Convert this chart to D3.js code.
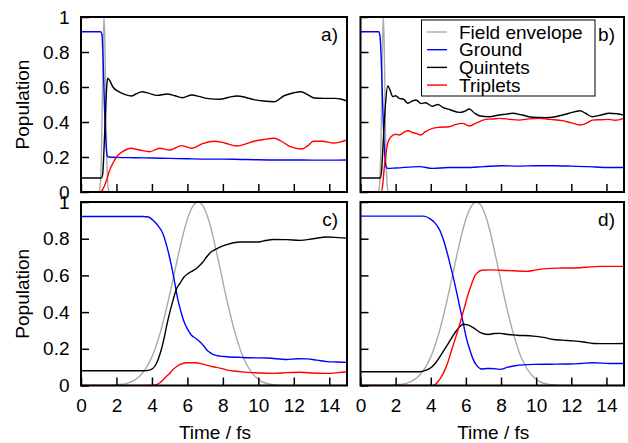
<!DOCTYPE html>
<html>
<head>
<meta charset="utf-8">
<script src="https://cdn.jsdelivr.net/npm/d3@7"></script>
<style>
  body { margin: 0; background: #fff; }
  svg { display: block; }
  text { font-family: "Liberation Sans", Arial, Helvetica, sans-serif; }
</style>
</head>
<body>
<svg></svg>
<script>
// tick values / labels
const xTicks = [0, 2, 4, 6, 8, 10, 12, 14];
const yTicks = [0, 0.2, 0.4, 0.6, 0.8, 1];
const yTickLabels = ["0", "0.2", "0.4", "0.6", "0.8", "1"];
const seriesNames = ["Field envelope", "Ground", "Quintets", "Triplets"];
const seriesColors = ["#aaaaaa", "#0000ff", "#000000", "#ff0000"];
const panelLabels = ["a)", "b)", "c)", "d)"];

// [time (fs), population]
const envelopeTop = [[0,0],[1.0,0],[1.05,0.013],[1.1,0.063],[1.15,0.21],[1.2,0.5],[1.25,0.84],[1.3,1],
  [1.35,0.84],[1.4,0.5],[1.45,0.21],[1.5,0.063],[1.55,0.013],[1.6,0],[15,0]];
const envelopeBottom = [[0,0],[1.6,0],[2.1,0.004],[2.6,0.012],[2.85,0.021],[3.1,0.035],[3.35,0.055],[3.6,0.085],
  [3.85,0.126],[4.1,0.18],[4.35,0.249],[4.6,0.334],[4.85,0.432],[5.1,0.539],[5.35,0.651],[5.6,0.76],
  [5.85,0.857],[6.1,0.934],[6.35,0.983],[6.6,1],[6.85,0.983],[7.1,0.93],[7.35,0.85],[7.6,0.745],
  [7.85,0.635],[8.1,0.52],[8.35,0.415],[8.6,0.318],[8.85,0.235],[9.1,0.165],[9.35,0.113],[9.6,0.074],
  [9.85,0.046],[10.1,0.027],[10.35,0.015],[10.6,0.008],[11.1,0.002],[11.6,0],[15,0]];

const groundA = [[0,0.916],[1.1,0.916],[1.18,0.9],[1.25,0.75],[1.32,0.5],[1.4,0.3],[1.47,0.21],[1.55,0.2],
  [2,0.198],[3,0.196],[4,0.194],[5,0.192],[6,0.19],[7,0.188],[8,0.188],[9,0.186],[10,0.184],[11,0.183],
  [12,0.183],[13,0.182],[14,0.182],[15,0.183]];
const quintA = [[0,0.08],[1.15,0.08],[1.22,0.1],[1.3,0.25],[1.38,0.45],[1.45,0.6],[1.5,0.65],[1.6,0.64],
  [1.8,0.6],[2.1,0.575],[2.5,0.556],[2.85,0.549],[3.1,0.56],[3.45,0.573],[3.8,0.565],[4.3,0.552],[4.85,0.56],
  [5.3,0.55],[5.7,0.539],[6.25,0.554],[6.7,0.545],[7.1,0.535],[7.85,0.53],[8.3,0.54],[8.8,0.549],[9.3,0.54],
  [9.75,0.528],[10.3,0.52],[10.9,0.516],[11.45,0.55],[12.0,0.567],[12.4,0.573],[12.8,0.555],[13.15,0.537],
  [13.7,0.535],[14.3,0.535],[14.7,0.53],[15,0.52]];
const tripA = [[0,0],[1.08,0],[1.2,0.01],[1.3,0.03],[1.45,0.07],[1.6,0.12],[1.83,0.17],[2.0,0.2],[2.2,0.22],
  [2.5,0.24],[2.8,0.25],[3.3,0.24],[3.87,0.23],[4.44,0.25],[5.0,0.24],[5.67,0.265],[6.23,0.25],[6.9,0.278],
  [7.5,0.29],[8.1,0.28],[8.8,0.263],[9.3,0.275],[9.75,0.29],[10.3,0.3],[10.9,0.307],[11.3,0.29],[11.8,0.259],
  [12.45,0.246],[12.8,0.265],[13.1,0.29],[13.6,0.29],[14.25,0.28],[14.6,0.285],[15,0.297]];

const groundB = [[0,0.916],[1.05,0.916],[1.12,0.88],[1.2,0.7],[1.28,0.45],[1.36,0.25],[1.45,0.145],[1.55,0.135],
  [2,0.137],[3.35,0.145],[4.1,0.135],[5,0.14],[6,0.14],[7,0.145],[8,0.15],[9,0.148],[10,0.15],[11,0.15],
  [12,0.148],[13,0.145],[14,0.14],[15,0.14]];
const quintB = [[0,0.08],[1.12,0.08],[1.2,0.12],[1.3,0.3],[1.42,0.5],[1.55,0.606],[1.65,0.59],[1.84,0.545],
  [2.0,0.55],[2.2,0.535],[2.45,0.53],[2.7,0.507],[2.95,0.52],[3.16,0.526],[3.45,0.505],[3.7,0.51],[4.1,0.49],
  [4.4,0.5],[4.68,0.484],[5.1,0.47],[5.63,0.455],[5.9,0.46],[6.2,0.474],[6.5,0.45],[6.76,0.436],[7.33,0.43],
  [7.9,0.44],[8.3,0.445],[8.65,0.45],[9.2,0.44],[9.8,0.427],[10.5,0.425],[11.1,0.43],[11.5,0.44],[11.87,0.45],
  [12.5,0.464],[12.8,0.45],[13.2,0.43],[13.7,0.44],[14.15,0.45],[14.6,0.447],[15,0.44]];
const tripB = [[0,0],[1.17,0],[1.25,0.03],[1.36,0.145],[1.45,0.22],[1.55,0.28],[1.74,0.316],[2.0,0.33],
  [2.2,0.326],[2.45,0.34],[2.7,0.35],[2.95,0.34],[3.16,0.335],[3.45,0.326],[3.7,0.345],[4.1,0.364],[4.5,0.37],
  [5.05,0.373],[5.4,0.385],[5.8,0.392],[6.2,0.377],[6.6,0.395],[7.14,0.415],[7.5,0.417],[7.9,0.421],[8.5,0.415],
  [9.03,0.411],[9.6,0.418],[10.17,0.421],[10.8,0.415],[11.5,0.408],[12.0,0.395],[12.5,0.383],[12.9,0.395],
  [13.2,0.411],[13.7,0.413],[14.15,0.415],[14.5,0.41],[15,0.421]];

const groundC = [[0,0.921],[3.5,0.921],[3.8,0.918],[4.06,0.9],[4.35,0.87],[4.62,0.827],[4.9,0.736],[5.19,0.61],
  [5.47,0.465],[5.7,0.38],[5.85,0.338],[6.05,0.3],[6.23,0.274],[6.5,0.255],[6.7,0.238],[6.9,0.218],[7.08,0.195],
  [7.3,0.178],[7.55,0.166],[7.83,0.16],[8.2,0.157],[9.0,0.153],[9.52,0.151],[10.5,0.15],[11.6,0.142],
  [12.2,0.146],[12.74,0.145],[13.3,0.138],[13.87,0.13],[14.4,0.128],[15,0.126]];
const quintC = [[0,0.08],[3.5,0.08],[3.9,0.085],[4.25,0.12],[4.45,0.17],[4.62,0.23],[4.9,0.356],[5.19,0.465],
  [5.4,0.53],[5.57,0.555],[5.8,0.59],[6.04,0.61],[6.3,0.625],[6.6,0.646],[6.85,0.67],[7.08,0.7],[7.3,0.725],
  [7.55,0.74],[7.83,0.754],[8.2,0.767],[8.6,0.778],[8.96,0.782],[9.5,0.782],[10,0.782],[10.4,0.79],
  [10.85,0.796],[11.6,0.795],[12.36,0.791],[13.1,0.8],[13.87,0.809],[14.5,0.806],[15,0.803]];
const tripC = [[0,0],[4.0,0],[4.25,0.005],[4.45,0.015],[4.62,0.03],[4.8,0.048],[5.0,0.066],[5.2,0.088],
  [5.38,0.102],[5.6,0.115],[5.95,0.124],[6.5,0.124],[6.8,0.118],[7.08,0.111],[7.45,0.102],[7.83,0.095],
  [8.2,0.085],[8.6,0.079],[9.2,0.073],[9.72,0.07],[10.85,0.066],[11.6,0.07],[12.36,0.072],[13.1,0.068],
  [13.87,0.066],[14.5,0.07],[15,0.075]];

const groundD = [[0,0.923],[3.6,0.923],[3.95,0.909],[4.25,0.885],[4.52,0.845],[4.7,0.8],[4.9,0.736],[5.1,0.66],
  [5.28,0.591],[5.57,0.465],[5.85,0.338],[6.05,0.25],[6.23,0.193],[6.4,0.145],[6.6,0.111],[6.9,0.09],
  [7.2,0.093],[7.47,0.093],[7.94,0.088],[8.4,0.1],[8.8,0.108],[9.84,0.115],[10.8,0.116],[11.74,0.117],
  [12.5,0.12],[13.26,0.124],[14.2,0.12],[15,0.12]];
const quintD = [[0,0.075],[3.38,0.075],[3.7,0.082],[3.95,0.093],[4.25,0.12],[4.52,0.157],[5.0,0.23],[5.47,0.3],
  [5.7,0.325],[5.85,0.334],[6.14,0.329],[6.5,0.31],[6.8,0.29],[7.28,0.278],[7.6,0.283],[7.94,0.284],[8.4,0.278],
  [8.9,0.274],[9.84,0.269],[10.4,0.262],[10.98,0.251],[11.5,0.247],[12.12,0.243],[12.7,0.237],[13.26,0.229],
  [14,0.228],[15,0.229]];
const tripD = [[0,0],[4.15,0],[4.4,0.02],[4.71,0.066],[4.95,0.12],[5.19,0.193],[5.43,0.265],[5.66,0.338],
  [5.9,0.42],[6.14,0.501],[6.35,0.56],[6.52,0.6],[6.7,0.618],[6.9,0.628],[7.4,0.63],[7.94,0.628],[8.7,0.625],
  [9.46,0.622],[10.0,0.63],[10.6,0.637],[11.5,0.64],[12.5,0.642],[13.0,0.646],[13.64,0.649],[14.3,0.649],
  [15,0.649]];

function drawChart() {
    const svgWidth = 628, svgHeight = 443;
    const fontSize = 19;
    const tickLen = 8;

    const svg = d3.select("svg")
        .attr("width", svgWidth)
        .attr("height", svgHeight);

    // panel boxes in pixels
    const cols = [[81, 347], [360.5, 624]];
    const rows = [[17, 192], [202, 385.5]];

    const panels = [
        { col: 0, row: 0, series: [envelopeTop, groundA, quintA, tripA] },
        { col: 1, row: 0, series: [envelopeTop, groundB, quintB, tripB] },
        { col: 0, row: 1, series: [envelopeBottom, groundC, quintC, tripC] },
        { col: 1, row: 1, series: [envelopeBottom, groundD, quintD, tripD] }
    ];

    panels.forEach(function(p, i) {
        const [x0, x1] = cols[p.col];
        const [y0, y1] = rows[p.row];

        const x = d3.scaleLinear().domain([0, 15]).range([x0, x1]);
        const y = d3.scaleLinear().domain([0, 1]).range([y1, y0]);

        const clipId = "clip" + i;
        svg.append("clipPath").attr("id", clipId)
            .append("rect")
            .attr("x", x0).attr("y", y0)
            .attr("width", x1 - x0).attr("height", y1 - y0);

        const line = d3.line()
            .x(d => x(d[0]))
            .y(d => y(d[1]))
            .curve(d3.curveMonotoneX);

        const g = svg.append("g").attr("clip-path", `url(#${clipId})`);
        p.series.forEach(function(s, k) {
            g.append("path")
                .datum(s)
                .attr("fill", "none")
                .attr("stroke", seriesColors[k])
                .attr("stroke-width", 1.4)
                .attr("stroke-linejoin", "round")
                .attr("d", line);
        });

        // x axis (inward ticks)
        const xAxis = svg.append("g")
            .attr("transform", `translate(0, ${y1})`)
            .call(d3.axisBottom(x)
                .tickValues(xTicks)
                .tickSizeInner(-tickLen)
                .tickSizeOuter(0)
                .tickPadding(13)
                .tickFormat(p.row === 1 ? d3.format("d") : ""));
        xAxis.select(".domain").remove();

        // y axis (inward ticks)
        const yAxis = svg.append("g")
            .attr("transform", `translate(${x0}, 0)`)
            .call(d3.axisLeft(y)
                .tickValues(yTicks)
                .tickSizeInner(-tickLen)
                .tickSizeOuter(0)
                .tickPadding(11.5)
                .tickFormat((d, j) => p.col === 0 ? yTickLabels[j] : ""));
        yAxis.select(".domain").remove();

        [xAxis, yAxis].forEach(a => {
            a.attr("font-size", fontSize).attr("font-family", null);
            a.selectAll("line").attr("stroke", "#000").attr("stroke-width", 1.5);
            a.selectAll("text").attr("fill", "#000");
        });

        // frame
        svg.append("rect")
            .attr("x", x0).attr("y", y0)
            .attr("width", x1 - x0).attr("height", y1 - y0)
            .attr("fill", "none")
            .attr("stroke", "#000")
            .attr("stroke-width", 2);

        // panel letter
        svg.append("text")
            .attr("x", x1 - 9).attr("y", y0 + 24)
            .attr("text-anchor", "end")
            .attr("font-size", fontSize)
            .text(panelLabels[i]);

        // axis titles
        if (p.col === 0) {
            svg.append("text")
                .attr("transform", `translate(29, ${(y0 + y1) / 2}) rotate(-90)`)
                .attr("text-anchor", "middle")
                .attr("font-size", fontSize)
                .text("Population");
        }
        if (p.row === 1) {
            svg.append("text")
                .attr("x", (x0 + x1) / 2 + 1).attr("y", 439)
                .attr("text-anchor", "middle")
                .attr("font-size", fontSize)
                .text("Time / fs");
        }
    });

    // legend in panel b
    const legend = svg.append("g");
    legend.append("rect")
        .attr("x", 421.5).attr("y", 20)
        .attr("width", 173.5).attr("height", 76)
        .attr("fill", "#fff")
        .attr("stroke", "#000")
        .attr("stroke-width", 1);
    seriesNames.forEach(function(name, k) {
        const cy = 32 + k * 17.7;
        legend.append("line")
            .attr("x1", 427).attr("x2", 447)
            .attr("y1", cy).attr("y2", cy)
            .attr("stroke", seriesColors[k])
            .attr("stroke-width", 1.4);
        legend.append("text")
            .attr("x", 459).attr("y", cy)
            .attr("dy", "0.35em")
            .attr("font-size", fontSize)
            .text(name);
    });
}

drawChart();
</script>
</body>
</html>
